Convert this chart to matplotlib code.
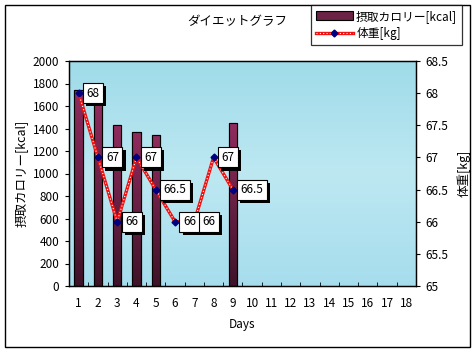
import matplotlib
matplotlib.use("Agg")
import matplotlib.pyplot as plt
import numpy as np
from matplotlib.patches import Rectangle
from matplotlib.lines import Line2D
from matplotlib.colors import LinearSegmentedColormap
import matplotlib.patheffects as pe

plt.rcParams['font.family'] = ['Noto Sans CJK JP', 'DejaVu Sans']

days = list(range(1, 19))
calorie_days = [1, 2, 3, 4, 5, 9]
calories = [1740, 1630, 1430, 1365, 1345, 1445]
weight_days = [1, 2, 3, 4, 5, 6, 7, 8, 9]
weights = [68, 67, 66, 67, 66.5, 66, 66, 67, 66.5]
weight_labels = ["68", "67", "66", "67", "66.5", "66", "66", "67", "66.5"]

title = "ダイエットグラフ"
bar_name = "摂取カロリー[kcal]"
line_name = "体重[kg]"

W, H = 474, 353
fig = plt.figure(figsize=(W / 100, H / 100), dpi=100)
fig.patch.set_facecolor('white')

ax = fig.add_axes([69 / W, 1 - 286 / H, (416 - 69) / W, (286 - 61) / H])
ax2 = ax.twinx()

# background gradient
grad = np.linspace(0, 1, 256).reshape(-1, 1)
bg_cmap = LinearSegmentedColormap.from_list('bg', ['#9fdbe9', '#bde8f2', '#a6dded'])
ax.imshow(grad, cmap=bg_cmap, aspect='auto', extent=[0.5, 18.5, 0, 2000], zorder=0)

# bars with gradient
bar_cmap = LinearSegmentedColormap.from_list('bar', ['#902c5e', '#3e1328'])
bars = ax.bar(calorie_days, calories, width=0.44, color='#6b2245', edgecolor='black',
              linewidth=0.8, zorder=2)
for b in bars:
    x0, y0 = b.get_x(), b.get_y()
    w, h = b.get_width(), b.get_height()
    im = ax.imshow(grad, cmap=bar_cmap, aspect='auto', extent=[x0, x0 + w, y0, y0 + h],
                   zorder=2.1)
    im.set_clip_path(b)
for b in bars:
    ax.add_patch(Rectangle((b.get_x(), b.get_y()), b.get_width(), b.get_height(),
                           fill=False, edgecolor='black', lw=0.8, zorder=2.2))

ax.set_xlim(0.5, 18.5)
ax.set_ylim(0, 2000)
ax.set_yticks(range(0, 2001, 200))
ax.set_xticks(days)
ax.set_xticks(np.arange(1.5, 18.5, 1), minor=True)
ax.tick_params(axis='x', which='major', length=0, pad=8, labelsize=8.5)
ax.tick_params(axis='x', which='minor', length=3, direction='in')
ax.tick_params(axis='y', length=3, direction='out', labelsize=8.5, pad=4)

ax2.set_ylim(65, 68.5)
ax2.set_yticks([65, 65.5, 66, 66.5, 67, 67.5, 68, 68.5])
ax2.set_yticklabels(["65", "65.5", "66", "66.5", "67", "67.5", "68", "68.5"])
ax2.tick_params(axis='y', length=3, direction='out', labelsize=8.5, pad=4)

for a in (ax, ax2):
    for s in a.spines.values():
        s.set_linewidth(0.9)
        s.set_color('black')

# weight line
ax2.plot(weight_days, weights, color='#ee1111', lw=2.4, zorder=3)
ax2.plot(weight_days, weights, color='white', lw=0.8, linestyle=(0, (1, 2)), zorder=3.1)
ax2.plot(weight_days, weights, linestyle='none', marker='D', markersize=3.5,
         color='#000080', zorder=3.2)

for x, y, lab in zip(weight_days, weights, weight_labels):
    ann = ax2.annotate(lab, (x, y), xytext=(8, 0), textcoords='offset pixels', ha='left',
                       va='center', fontsize=8.5, color='black',
                       bbox=dict(boxstyle='square,pad=0.3', fc='white', ec='black', lw=0.8),
                       zorder=5)
    ann.get_bbox_patch().set_path_effects([
        pe.SimplePatchShadow(offset=(2.2, -2.2), shadow_rgbFace='black', alpha=1.0),
        pe.Normal()])

ax.set_xlabel("Days", fontsize=8.5, labelpad=6)
ax.set_ylabel(bar_name, fontsize=9, labelpad=4)
ax2.set_ylabel(line_name, fontsize=9, labelpad=6)

fig.text(237 / W, 1 - 22 / H, title, ha='center', va='center', fontsize=9)

# legend
h_bar = Rectangle((0, 0), 1, 1, fc='#6b2245', ec='black', lw=0.8)
h_l1 = Line2D([], [], color='#ee1111', lw=2.4)
h_l2 = Line2D([], [], color='white', lw=0.8, linestyle=(0, (1, 2)))
h_l3 = Line2D([], [], linestyle='none', marker='D', markersize=3.5, color='#000080')
leg = fig.legend([h_bar, (h_l1, h_l2, h_l3)], [bar_name, line_name],
                 loc='upper right', bbox_to_anchor=(462 / W, 1 - 5 / H),
                 fontsize=8.5, frameon=True, fancybox=False, borderpad=0.4,
                 labelspacing=0.35, handlelength=3.1, handletextpad=0.3,
                 borderaxespad=0)
leg.get_frame().set_edgecolor('black')
leg.get_frame().set_linewidth(0.9)

# figure border
fig.patches.append(Rectangle((5 / W, 1 - 347 / H), 465 / W, 342 / H, transform=fig.transFigure,
                             fill=False, edgecolor='black', lw=1.0))

fig.savefig("out.png", dpi=100)
